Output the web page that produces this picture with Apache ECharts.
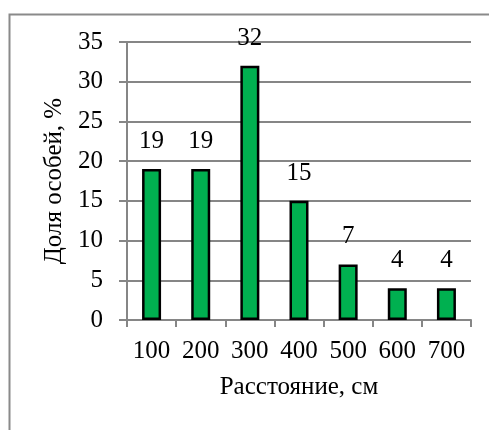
<!DOCTYPE html>
<html>
<head>
<meta charset="utf-8">
<script src="https://cdn.jsdelivr.net/npm/echarts@6/dist/echarts.min.js"></script>
<style>
  html, body { margin: 0; padding: 0; background: #fff; }
  #chart { width: 489px; height: 430px; }
</style>
</head>
<body>
<div id="chart"></div>
<script>
// Distance classes (cm) and share of individuals (%)
const distances = ['100', '200', '300', '400', '500', '600', '700'];
const shares = [19, 19, 32, 15, 7, 4, 4];
const yTicks = { min: 0, max: 35, step: 5 };

const font = '"Liberation Serif", "Times New Roman", serif';
const gridGray = '#868686';
const fs = 25;

const chart = echarts.init(document.getElementById('chart'), null, { renderer: 'canvas' });
chart.setOption({
  animation: false,
  backgroundColor: '#ffffff',
  graphic: [{
    type: 'rect',
    left: 7, top: 12,
    shape: { width: 700, height: 700 },
    style: { fill: 'none', stroke: '#8a8a8a', lineWidth: 2 },
    silent: true,
    z: -1
  }],
  grid: { left: 127, right: 18, top: 42, bottom: 110 },
  xAxis: {
    type: 'category',
    data: distances,
    name: 'Расстояние, см',
    nameLocation: 'middle',
    nameGap: 55,
    nameTextStyle: { fontFamily: font, fontSize: fs, color: '#000' },
    axisLine: { lineStyle: { color: gridGray, width: 2 } },
    axisTick: { show: true, length: 7, lineStyle: { color: gridGray, width: 2 } },
    axisLabel: { fontFamily: font, fontSize: fs, color: '#000', margin: 19 }
  },
  yAxis: {
    type: 'value',
    min: yTicks.min, max: yTicks.max, interval: yTicks.step,
    name: 'Доля особей, %',
    nameLocation: 'middle',
    nameGap: 60,
    nameTextStyle: { fontFamily: font, fontSize: fs, color: '#000' },
    axisLine: { show: true, lineStyle: { color: gridGray, width: 2 } },
    axisTick: { show: true, length: 8, lineStyle: { color: gridGray, width: 2 } },
    axisLabel: { fontFamily: font, fontSize: fs, color: '#000', margin: 24 },
    splitLine: { lineStyle: { color: gridGray, width: 2 } }
  },
  series: [{
    type: 'bar',
    data: shares,
    barWidth: 19,
    itemStyle: { color: '#00B050', borderColor: '#000', borderWidth: 2.5 },
    label: {
      show: true, position: 'top', distance: 15,
      fontFamily: font, fontSize: fs, color: '#000'
    }
  }]
});
</script>
</body>
</html>
